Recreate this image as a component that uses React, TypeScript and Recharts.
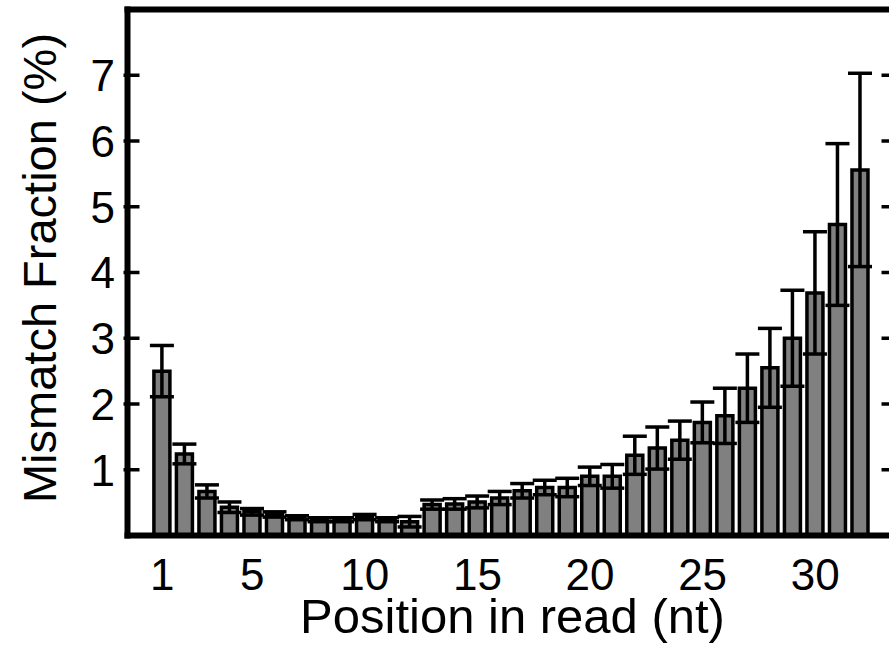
import React from 'react';
import { BarChart, Bar, XAxis, YAxis, ErrorBar } from 'recharts';

const positions = [1, 2, 3, 4, 5, 6, 7, 8, 9, 10, 11, 12, 13, 14, 15, 16, 17, 18, 19, 20, 21, 22, 23, 24, 25, 26, 27, 28, 29, 30, 31, 32];
const mismatch = [2.5, 1.24, 0.67, 0.43, 0.36, 0.32, 0.27, 0.24, 0.24, 0.28, 0.24, 0.21, 0.47, 0.48, 0.51, 0.57, 0.68, 0.73, 0.73, 0.9, 0.9, 1.22, 1.33, 1.45, 1.72, 1.82, 2.24, 2.55, 3.0, 3.69, 4.73, 5.56];
const errors = [0.39, 0.15, 0.1, 0.08, 0.05, 0.04, 0.03, 0.03, 0.03, 0.04, 0.03, 0.08, 0.07, 0.08, 0.09, 0.1, 0.11, 0.11, 0.14, 0.14, 0.18, 0.29, 0.32, 0.29, 0.31, 0.42, 0.52, 0.6, 0.73, 0.93, 1.23, 1.47];
const xTickLabels = [1, 5, 10, 15, 20, 25, 30];
const yTicks = [1, 2, 3, 4, 5, 6, 7];

const data = positions.map((p, i) => ({ pos: p, value: mismatch[i], err: errors[i] }));

const FONT = '"Liberation Sans", Arial, Helvetica, sans-serif';

const LeftTick = (props: any) => {
  const { x, y, payload } = props;
  return (
    <g>
      <line x1={x - 4} x2={x + 12} y1={y} y2={y} stroke="#000" strokeWidth={3.5} />
      <text x={x - 12.5} y={y} dy={15.75} textAnchor="end" fontSize={44} fontFamily={FONT} fill="#000" stroke="none">
        {payload.value}
      </text>
    </g>
  );
};

const RightTick = (props: any) => {
  const { x, y } = props;
  return <line x1={x - 12} x2={x + 4} y1={y} y2={y} stroke="#000" strokeWidth={3.5} />;
};

const BottomTick = (props: any) => {
  const { x, y, payload } = props;
  if (!xTickLabels.includes(payload.value)) return <g />;
  return (
    <text x={x} y={y + 54.5} textAnchor="middle" fontSize={44} fontFamily={FONT} fill="#000" stroke="none">
      {payload.value}
    </text>
  );
};

const XTitle = () => (
  <text x={512.5} y={632.5} textAnchor="middle" fontSize={49} fontFamily={FONT} fill="#000" stroke="none">
    Position in read (nt)
  </text>
);

const YTitle = () => (
  <text x={56} y={268} textAnchor="middle" fontSize={47} fontFamily={FONT} fill="#000" stroke="none" transform="rotate(-90, 56, 268)">
    Mismatch Fraction (%)
  </text>
);

const axisLineStyle = { stroke: '#000', strokeWidth: 6, strokeLinecap: 'square' as const };

export default function App() {
  return (
    <div style={{ position: 'absolute', left: 0, top: 0, width: 889, height: 651, overflow: 'hidden', background: '#fff' }}>
      <BarChart width={903.5} height={651} data={data} margin={{ top: 8.5, right: 0, bottom: 0, left: 0 }}>
        <XAxis
          dataKey="pos"
          type="category"
          height={115.5}
          interval={0}
          tickSize={0}
          tickMargin={0}
          tickLine={false}
          tick={<BottomTick />}
          stroke="#000"
          strokeWidth={6}
          axisLine={axisLineStyle}
          padding={{ left: 23.4, right: 22 }}
          label={<XTitle />}
        />
        <XAxis
          xAxisId="top"
          dataKey="pos"
          orientation="top"
          height={1}
          tick={false}
          tickLine={false}
          stroke="#000"
          strokeWidth={6}
          axisLine={axisLineStyle}
        />
        <YAxis
          domain={[0, 8]}
          ticks={yTicks}
          width={127.5}
          tickSize={0}
          tickMargin={0}
          tickLine={false}
          tick={<LeftTick />}
          stroke="#000"
          strokeWidth={6}
          axisLine={axisLineStyle}
          allowDataOverflow
          label={<YTitle />}
        />
        <YAxis
          yAxisId="right"
          orientation="right"
          domain={[0, 8]}
          ticks={yTicks}
          width={10}
          tickSize={0}
          tickMargin={0}
          tickLine={false}
          tick={<RightTick />}
          stroke="#000"
          strokeWidth={6}
          axisLine={axisLineStyle}
          allowDataOverflow
        />
        <Bar dataKey="value" fill="#808080" stroke="#000" strokeWidth={3.5} barSize={16} isAnimationActive={false}>
          <ErrorBar dataKey="err" width={12} stroke="#000" strokeWidth={3.5} direction="y" isAnimationActive={false} />
        </Bar>
      </BarChart>
    </div>
  );
}
